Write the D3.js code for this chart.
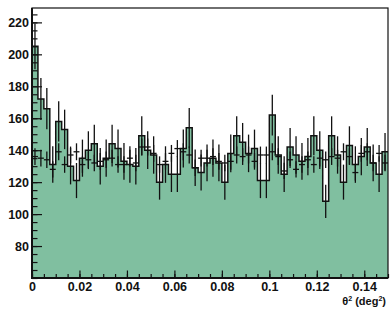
<!DOCTYPE html>
<html>
<head>
<meta charset="utf-8">
<script src="https://cdn.jsdelivr.net/npm/d3@7"></script>
<style>
  body { margin: 0; background: #fff; }
  text { font-family: "Liberation Sans", Arial, sans-serif; font-weight: bold; }
</style>
</head>
<body>
<svg id="chart" width="392" height="311"></svg>
<script>
// theta^2 bins, 0.0025 deg^2 wide
const binWidth = 0.0025
const onCounts = [205,172,166,131,158,153,130,121,135,140,
                  144,130,135,144,141,133,131,130,149,140,
                  137,120,131,125,125,141,154,129,126,132,
                  135,132,120,138,149,145,138,141,121,121,
                  162,137,125,142,137,133,136,149,140,108,
                  149,137,120,143,131,136,142,132,125,139]
const offCounts = [136,135,134,128,139,131,137,139,131,134,
                   132,133,134,135,131,131,135,132,142,142,
                   138,131,133,138,141,139,137,129,135,135,
                   136,133,132,133,137,136,137,133,137,137,
                   139,136,127,134,128,131,134,131,135,134,
                   136,135,139,136,126,138,139,132,138,132]
const offScale = 0.45   // off histogram normalisation, used for its errors
const xTicks = [0, 0.02, 0.04, 0.06, 0.08, 0.1, 0.12, 0.14]
const yTicks = [80, 100, 120, 140, 160, 180, 200, 220]

const svg = d3.select("#chart")
const x = d3.scaleLinear().domain([0, 0.15]).range([32, 388])
const y = d3.scaleLinear().domain([60, 229]).range([278, 8])

svg.append("clipPath").attr("id", "clip")
  .append("rect").attr("x", 32).attr("y", 8).attr("width", 356).attr("height", 270)

const plot = svg.append("g").attr("clip-path", "url(#clip)")

let bins = onCounts.map((v, i) => ({lo: i * binWidth, hi: (i + 1) * binWidth, on: v, off: offCounts[i]}))
let edges = bins.map(d => ({x: d.lo, v: d.on}))
edges.push({x: bins.length * binWidth, v: onCounts[onCounts.length - 1]})

plot.append("path")
  .datum(edges)
  .attr("fill", "#80bfa0")
  .attr("d", d3.area().curve(d3.curveStepAfter).x(d => x(d.x)).y0(y(60)).y1(d => y(d.v)))

plot.append("path")
  .datum(edges)
  .attr("fill", "none")
  .attr("stroke", "#111")
  .attr("stroke-width", 1.5)
  .attr("d", d3.line().curve(d3.curveStepAfter).x(d => x(d.x)).y(d => y(d.v)))

// on errors
plot.selectAll("line.onerr")
  .data(bins).enter()
  .append("line")
  .attr("class", "onerr")
  .attr("x1", d => x((d.lo + d.hi) / 2))
  .attr("x2", d => x((d.lo + d.hi) / 2))
  .attr("y1", d => y(d.on - Math.sqrt(d.on)))
  .attr("y2", d => y(d.on + Math.sqrt(d.on)))
  .attr("stroke", "#111")
  .attr("stroke-width", 1.3)

// off crosses
let cross = plot.selectAll("g.off").data(bins).enter().append("g").attr("class", "off")
cross.append("line")
  .attr("x1", d => x(d.lo)).attr("x2", d => x(d.hi))
  .attr("y1", d => y(d.off)).attr("y2", d => y(d.off))
  .attr("stroke", "#111").attr("stroke-width", 1.3)
cross.append("line")
  .attr("x1", d => x((d.lo + d.hi) / 2)).attr("x2", d => x((d.lo + d.hi) / 2))
  .attr("y1", d => y(d.off - offScale * Math.sqrt(d.off)))
  .attr("y2", d => y(d.off + offScale * Math.sqrt(d.off)))
  .attr("stroke", "#111").attr("stroke-width", 1.3)

// axes, ticks drawn inside the frame
svg.append("g").attr("transform", "translate(32,0)")
  .call(d3.axisLeft(y).tickValues(d3.range(60, 229, 5)).tickSize(-5.5).tickFormat(""))
svg.append("g").attr("transform", "translate(32,0)")
  .call(d3.axisLeft(y).tickValues(yTicks).tickSize(-10).tickPadding(3).tickFormat(d3.format("d")))
svg.append("g").attr("transform", "translate(0,278)")
  .call(d3.axisBottom(x).tickValues(d3.range(0, 0.1501, 0.005)).tickSize(-4).tickFormat(""))
svg.append("g").attr("transform", "translate(0,278)")
  .call(d3.axisBottom(x).tickValues(xTicks).tickSize(-7.5).tickPadding(4).tickFormat(d => d3.format("")(+d.toFixed(2))))

svg.selectAll(".domain").remove()
svg.selectAll(".tick line").attr("stroke", "#111").attr("stroke-width", 1.2)
svg.selectAll(".tick text").attr("font-size", 12.5).attr("fill", "#111")
  .style("font-family", "Liberation Sans, Arial, sans-serif").style("font-weight", "bold")

svg.append("rect")
  .attr("x", 32).attr("y", 8).attr("width", 356).attr("height", 270)
  .attr("fill", "none").attr("stroke", "#111").attr("stroke-width", 1.2)
svg.append("line").attr("x1", 32).attr("x2", 32).attr("y1", 8).attr("y2", 278)
  .attr("stroke", "#111").attr("stroke-width", 2)
svg.append("line").attr("x1", 31).attr("x2", 388).attr("y1", 278).attr("y2", 278)
  .attr("stroke", "#111").attr("stroke-width", 2)

let title = svg.append("text").attr("x", 386).attr("y", 305).attr("text-anchor", "end")
  .attr("font-size", 11).attr("fill", "#111")
title.append("tspan").text("θ")
title.append("tspan").attr("font-size", 7).attr("dy", -4).text("2")
title.append("tspan").attr("dy", 4).text(" (deg")
title.append("tspan").attr("font-size", 7).attr("dy", -4).text("2")
title.append("tspan").attr("dy", 4).text(")")
</script>
</body>
</html>
